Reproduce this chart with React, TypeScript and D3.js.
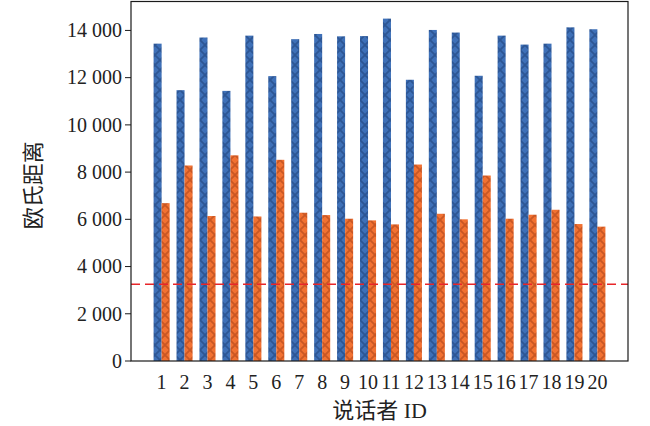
import React from "react";
import * as d3 from "d3";

// 说话者 ID 1..20
const speakers = d3.range(1, 21).map(String);
const distBlue = [13440, 11470, 13700, 11440, 13780, 12065, 13630, 13850, 13750, 13760,
  14500, 11910, 14020, 13910, 12080, 13780, 13400, 13440, 14130, 14050];
const distOrange = [6685, 8280, 6140, 8710, 6120, 8520, 6280, 6180, 6025, 5955,
  5785, 8320, 6235, 6000, 7855, 6025, 6195, 6405, 5800, 5690];
const threshold = 3250;
const yTicks = [0, 2000, 4000, 6000, 8000, 10000, 12000, 14000];

const W = 650;
const H = 426;
const margin = { top: 1.5, right: 22, bottom: 65, left: 131 };
const barW = 0.35;

const fmt = (v: number) => d3.format(",")(v).replace(/,/g, " ");

export default function App() {
  const n = speakers.length;
  const pad = (n - 1 + 2 * barW) * 0.05 + barW;
  const x = d3.scaleLinear().domain([-pad, n - 1 + pad]).range([margin.left, W - margin.right]);
  const ymax = d3.max(distBlue.concat(distOrange)) ?? 0;
  const y = d3.scaleLinear().domain([0, ymax * 1.05]).range([H - margin.bottom, margin.top]);
  const bw = x(barW) - x(0);
  const serif = "'Liberation Serif', 'DejaVu Serif', serif";
  const cjk = "'Liberation Serif', 'Noto Sans CJK SC', serif";

  const series = [
    { vals: distBlue, off: -barW / 2, fill: "#3e70b8", hatch: "#0f2550", id: "hb" },
    { vals: distOrange, off: barW / 2, fill: "#f27131", hatch: "#7a250c", id: "ho" },
  ];

  return (
    <svg width={W} height={H} style={{ position: "absolute", left: 0, top: 0, background: "#fff" }}>
      <defs>
        {series.map((s) => (
          <pattern key={s.id} id={s.id} width={10} height={10} patternUnits="userSpaceOnUse">
            <rect width={10} height={10} fill={s.fill} />
            <path d="M0,0L10,10M10,0L0,10" stroke={s.hatch} strokeWidth={1.8} strokeOpacity={0.35} />
          </pattern>
        ))}
      </defs>
      {series.map((s) => (
        <g key={s.id}>
          {s.vals.map((v, i) => (
            <rect
              key={i}
              x={x(i + s.off) - bw / 2}
              y={y(v)}
              width={bw}
              height={y(0) - y(v)}
              fill={`url(#${s.id})`}
            />
          ))}
        </g>
      ))}
      <line
        x1={margin.left}
        x2={W - margin.right}
        y1={y(threshold)}
        y2={y(threshold)}
        stroke="#e8262a"
        strokeWidth={1.6}
        strokeDasharray="9,5"
      />
      <rect
        x={margin.left}
        y={margin.top}
        width={W - margin.right - margin.left}
        height={H - margin.bottom - margin.top}
        fill="none"
        stroke="#1a1a1a"
        strokeWidth={1.2}
      />
      {yTicks.map((t) => (
        <g key={t}>
          <line x1={margin.left - 6} x2={margin.left} y1={y(t)} y2={y(t)} stroke="#1a1a1a" strokeWidth={1} />
          <text x={margin.left - 9} y={y(t)} dy="0.34em" textAnchor="end" fontFamily={serif} fontSize={20} fill="#222">
            {fmt(t)}
          </text>
        </g>
      ))}
      {speakers.map((s, i) => (
        <text key={s} x={x(i)} y={389} textAnchor="middle" fontFamily={serif} fontSize={20} fill="#222">
          {s}
        </text>
      ))}
      <text x={(margin.left + W - margin.right) / 2} y={418} textAnchor="middle" fontFamily={cjk} fontSize={22} fill="#222">
        说话者 ID
      </text>
      <text
        transform={`translate(41, ${(margin.top + H - margin.bottom) / 2 + 4}) rotate(-90)`}
        textAnchor="middle"
        fontFamily={cjk}
        fontSize={22}
        fill="#222"
      >
        欧氏距离
      </text>
    </svg>
  );
}
